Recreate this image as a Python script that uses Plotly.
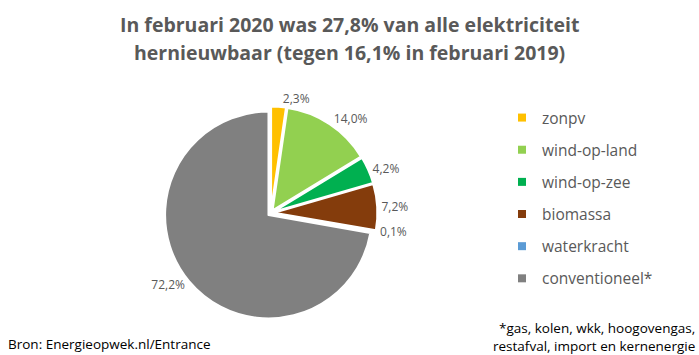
import plotly.graph_objects as go

categories = ["zonpv", "wind-op-land", "wind-op-zee", "biomassa", "waterkracht", "conventioneel*"]
values = [2.3, 14.0, 4.2, 7.2, 0.1, 72.2]
labels_text = ["2,3%", "14,0%", "4,2%", "7,2%", "0,1%", "72,2%"]
colors = ["#FFC000", "#92D050", "#00B050", "#843C0C", "#5B9BD5", "#808080"]

title_lines = ["In februari 2020 was 27,8% van alle elektriciteit",
               "hernieuwbaar (tegen 16,1% in februari 2019)"]
source_text = "Bron: Energieopwek.nl/Entrance"
footnote_lines = ["*gas, kolen, wkk, hoogovengas,", "restafval, import en kernenergie"]

FONT = "Open Sans, Liberation Sans, sans-serif"
GREY = "#595959"
W, H = 699, 355

fig = go.Figure()
fig.add_trace(go.Pie(
    labels=categories,
    values=values,
    text=labels_text,
    texttemplate="%{text}",
    textposition="outside",
    textfont=dict(family=FONT, size=12, color=GREY),
    marker=dict(colors=colors, line=dict(color="white", width=2)),
    pull=[0.03] * len(values),
    sort=False,
    direction="clockwise",
    rotation=0,
    showlegend=False,
    domain=dict(x=[0.3875 - 0.22, 0.3875 + 0.22], y=[0.40 - 0.30, 0.40 + 0.30]),
))

# legend entries (one group per category so their spacing can be set)
for cat, col in zip(categories, colors):
    fig.add_trace(go.Scatter(
        x=[None], y=[None], mode="markers", name=cat, legendgroup=cat,
        marker=dict(symbol="square", size=8, color=col),
        showlegend=True, hoverinfo="skip",
    ))

annotations = []
for i, line in enumerate(title_lines):
    annotations.append(dict(
        text="<b>" + line + "</b>", x=0.5, y=1 - (24 + 28 * i) / H,
        xref="paper", yref="paper", xanchor="center", yanchor="middle",
        showarrow=False, font=dict(family=FONT, size=19.5, color=GREY)))
annotations.append(dict(
    text=source_text, x=6 / W, y=1 - 344 / H, xref="paper", yref="paper",
    xanchor="left", yanchor="middle", showarrow=False,
    font=dict(family=FONT, size=13.5, color="black")))
for i, line in enumerate(footnote_lines):
    annotations.append(dict(
        text=line, x=697 / W, y=1 - (328 + 18 * i) / H, xref="paper", yref="paper",
        xanchor="right", yanchor="middle", showarrow=False,
        font=dict(family=FONT, size=13.5, color="black")))

fig.update_layout(
    width=W,
    height=H,
    margin=dict(l=0, r=0, t=0, b=0, autoexpand=False),
    paper_bgcolor="white",
    plot_bgcolor="white",
    xaxis=dict(visible=False),
    yaxis=dict(visible=False),
    legend=dict(
        x=502 / W, y=1 - 101 / H, xanchor="left", yanchor="top",
        font=dict(family=FONT, size=15.5, color=GREY),
        tracegroupgap=9,
        itemwidth=30,
        bgcolor="rgba(0,0,0,0)",
    ),
    annotations=annotations,
)

fig.write_html("out.html", config={"displayModeBar": False},
               post_script="document.body.style.margin='0';document.body.style.overflow='hidden';")
